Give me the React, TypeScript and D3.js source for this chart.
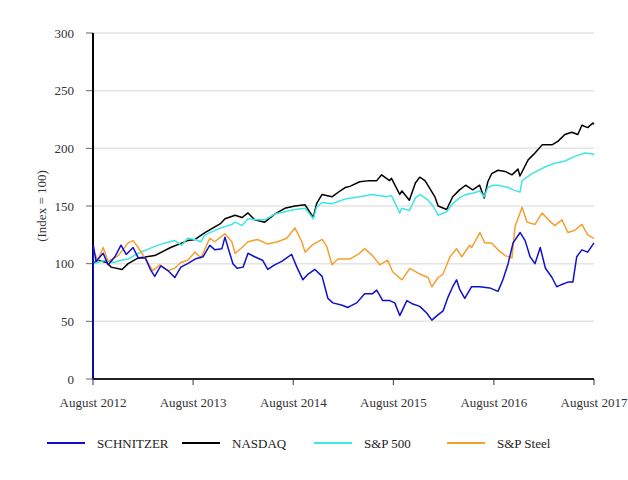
import React from "react";
import * as d3 from "d3";

type Pt = [string, number];

const seriesNames = ["SCHNITZER", "NASDAQ", "S&P 500", "S&P Steel"];
const seriesColors = ["#1010cc", "#000000", "#3ee6e6", "#f5a02e"];
const yTicks = [0, 50, 100, 150, 200, 250, 300];
const xTickDates = ["2012-08-01", "2013-08-01", "2014-08-01", "2015-08-01", "2016-08-01", "2017-08-01"];
const xTickLabels = ["August 2012", "August 2013", "August 2014", "August 2015", "August 2016", "August 2017"];

const schnitzer: Pt[] = [
  ["2012-08-01", 0], ["2012-08-02", 116], ["2012-08-12", 102], ["2012-09-07", 109], ["2012-09-25", 99],
  ["2012-10-20", 106], ["2012-11-11", 116], ["2012-11-30", 108], ["2012-12-25", 114], ["2013-01-13", 105],
  ["2013-02-08", 105], ["2013-02-26", 95], ["2013-03-14", 89], ["2013-04-05", 98], ["2013-05-01", 94],
  ["2013-05-26", 88], ["2013-06-17", 97], ["2013-07-12", 100], ["2013-08-08", 104], ["2013-09-06", 106],
  ["2013-10-01", 116], ["2013-10-19", 112], ["2013-11-14", 113], ["2013-11-25", 123], ["2013-12-06", 114],
  ["2013-12-24", 100], ["2014-01-08", 96], ["2014-01-30", 97], ["2014-02-17", 109], ["2014-03-13", 106],
  ["2014-04-11", 103], ["2014-04-30", 95], ["2014-05-25", 99], ["2014-06-20", 102], ["2014-07-26", 108],
  ["2014-08-14", 97], ["2014-09-05", 86], ["2014-09-24", 91], ["2014-10-19", 95], ["2014-11-14", 89],
  ["2014-12-05", 70], ["2014-12-23", 66], ["2015-01-26", 64], ["2015-02-16", 62], ["2015-02-23", 63],
  ["2015-03-20", 66], ["2015-04-18", 74], ["2015-05-17", 74], ["2015-06-01", 77], ["2015-06-23", 68],
  ["2015-07-18", 68], ["2015-08-06", 66], ["2015-08-24", 55], ["2015-09-19", 68], ["2015-10-11", 65],
  ["2015-11-05", 63], ["2015-12-01", 57], ["2015-12-19", 51], ["2016-01-07", 55], ["2016-01-29", 59],
  ["2016-02-16", 71], ["2016-03-04", 80], ["2016-03-18", 86], ["2016-03-29", 78], ["2016-04-17", 70],
  ["2016-05-12", 80], ["2016-06-11", 80], ["2016-07-17", 79], ["2016-08-16", 76], ["2016-09-03", 86],
  ["2016-09-22", 100], ["2016-10-10", 118], ["2016-11-05", 127], ["2016-11-23", 120], ["2016-12-11", 106],
  ["2016-12-29", 100], ["2017-01-17", 114], ["2017-02-05", 96], ["2017-03-01", 88], ["2017-03-18", 80],
  ["2017-04-06", 82], ["2017-04-28", 84], ["2017-05-16", 84], ["2017-05-30", 106], ["2017-06-18", 112],
  ["2017-07-09", 110], ["2017-08-01", 118],
];

const nasdaq: Pt[] = [
  ["2012-08-01", 100], ["2012-08-19", 103], ["2012-09-20", 101], ["2012-10-06", 97], ["2012-11-15", 95],
  ["2012-12-07", 100], ["2013-01-13", 105], ["2013-03-14", 107], ["2013-05-11", 114], ["2013-07-12", 120],
  ["2013-08-08", 121], ["2013-09-13", 127], ["2013-11-10", 135], ["2013-11-25", 139], ["2014-01-01", 142],
  ["2014-01-26", 140], ["2014-02-17", 144], ["2014-03-13", 138], ["2014-04-19", 136], ["2014-05-25", 143],
  ["2014-07-01", 148], ["2014-08-07", 150], ["2014-09-13", 151], ["2014-10-13", 140], ["2014-10-25", 152],
  ["2014-11-14", 160], ["2014-12-20", 158], ["2015-01-18", 163], ["2015-02-06", 166], ["2015-02-23", 167],
  ["2015-03-31", 171], ["2015-05-06", 172], ["2015-06-01", 172], ["2015-06-19", 177], ["2015-07-18", 172],
  ["2015-07-25", 174], ["2015-08-24", 160], ["2015-09-01", 163], ["2015-09-28", 155], ["2015-10-20", 170],
  ["2015-11-05", 175], ["2015-11-24", 172], ["2015-12-12", 165], ["2015-12-30", 158], ["2016-01-11", 150],
  ["2016-02-11", 147], ["2016-03-04", 158], ["2016-03-29", 164], ["2016-04-20", 168], ["2016-05-16", 164],
  ["2016-06-10", 168], ["2016-06-27", 157], ["2016-07-10", 171], ["2016-07-24", 178], ["2016-08-16", 181],
  ["2016-09-11", 180], ["2016-10-06", 177], ["2016-10-28", 182], ["2016-11-04", 176], ["2016-12-04", 190],
  ["2016-12-29", 196], ["2017-01-24", 203], ["2017-03-01", 203], ["2017-03-22", 206], ["2017-04-17", 212],
  ["2017-05-12", 214], ["2017-06-03", 212], ["2017-06-18", 220], ["2017-07-09", 218], ["2017-07-28", 222],
  ["2017-08-01", 221],
];

const sp500: Pt[] = [
  ["2012-08-01", 100], ["2012-09-15", 103], ["2012-10-15", 101], ["2012-11-11", 103], ["2012-12-07", 104],
  ["2013-01-13", 109], ["2013-03-14", 115], ["2013-04-20", 118], ["2013-05-26", 120], ["2013-06-20", 116],
  ["2013-07-12", 122], ["2013-08-08", 121], ["2013-08-29", 119], ["2013-09-13", 125], ["2013-11-10", 131],
  ["2013-12-20", 134], ["2014-01-01", 136], ["2014-01-26", 133], ["2014-02-17", 139], ["2014-03-13", 138],
  ["2014-04-19", 138], ["2014-05-25", 143], ["2014-07-01", 145], ["2014-08-07", 147], ["2014-09-13", 148],
  ["2014-10-13", 139], ["2014-10-25", 149], ["2014-11-14", 153], ["2014-12-20", 152], ["2015-02-06", 156],
  ["2015-03-31", 158], ["2015-05-17", 160], ["2015-07-07", 158], ["2015-07-25", 159], ["2015-08-24", 144],
  ["2015-09-01", 148], ["2015-09-28", 146], ["2015-10-20", 157], ["2015-11-05", 160], ["2015-12-01", 156],
  ["2015-12-23", 150], ["2016-01-11", 142], ["2016-02-11", 145], ["2016-03-04", 152], ["2016-03-29", 157],
  ["2016-04-20", 160], ["2016-05-16", 161], ["2016-06-10", 163], ["2016-06-27", 158], ["2016-07-10", 166],
  ["2016-07-29", 168], ["2016-08-16", 168], ["2016-09-22", 166], ["2016-10-10", 164], ["2016-11-04", 162],
  ["2016-11-12", 172], ["2016-12-18", 178], ["2017-02-05", 184], ["2017-03-11", 187], ["2017-04-17", 189],
  ["2017-05-23", 193], ["2017-06-29", 196], ["2017-07-28", 195], ["2017-08-01", 194],
];

const spSteel: Pt[] = [
  ["2012-08-01", 112], ["2012-08-19", 103], ["2012-09-07", 114], ["2012-09-25", 102], ["2012-11-01", 107],
  ["2012-12-07", 118], ["2012-12-25", 120], ["2013-01-13", 114], ["2013-02-11", 103], ["2013-03-07", 94],
  ["2013-04-02", 99], ["2013-05-01", 94], ["2013-05-26", 96], ["2013-06-17", 101], ["2013-07-12", 103],
  ["2013-08-08", 110], ["2013-08-29", 105], ["2013-10-01", 122], ["2013-10-19", 119], ["2013-11-25", 126],
  ["2013-12-20", 119], ["2014-01-01", 109], ["2014-01-26", 114], ["2014-02-17", 119], ["2014-03-24", 121],
  ["2014-04-30", 117], ["2014-06-05", 119], ["2014-07-08", 122], ["2014-08-07", 131], ["2014-09-01", 119],
  ["2014-09-13", 110], ["2014-10-08", 116], ["2014-11-14", 121], ["2014-12-01", 115], ["2014-12-20", 99],
  ["2015-01-11", 104], ["2015-02-06", 104], ["2015-02-23", 104], ["2015-03-31", 109], ["2015-04-18", 113],
  ["2015-05-17", 107], ["2015-06-12", 99], ["2015-07-11", 103], ["2015-07-29", 93], ["2015-09-01", 86],
  ["2015-09-30", 96], ["2015-11-05", 91], ["2015-12-05", 88], ["2015-12-19", 80], ["2016-01-11", 88],
  ["2016-01-29", 91], ["2016-02-23", 106], ["2016-03-18", 113], ["2016-04-06", 106], ["2016-05-05", 116],
  ["2016-05-12", 114], ["2016-06-11", 127], ["2016-06-29", 118], ["2016-07-24", 118], ["2016-08-16", 112],
  ["2016-09-11", 107], ["2016-10-06", 105], ["2016-10-17", 132], ["2016-11-12", 149], ["2016-11-30", 136],
  ["2016-12-29", 134], ["2017-01-24", 144], ["2017-02-16", 138], ["2017-03-11", 133], ["2017-04-06", 138],
  ["2017-04-28", 127], ["2017-05-23", 129], ["2017-06-18", 134], ["2017-07-09", 125], ["2017-08-01", 122],
];

const allSeries = [schnitzer, nasdaq, sp500, spSteel];
// drawing order: black, cyan, orange, blue on top
const drawOrder = [1, 2, 3, 0];

const W = 628;
const H = 480;
const M = { left: 85, top: 25, right: 34, bottom: 101 };
const FONT = "'Liberation Serif', 'Times New Roman', serif";

export default function App() {
  const parse = d3.timeParse("%Y-%m-%d");
  const x = d3
    .scaleTime()
    .domain([parse(xTickDates[0])!, parse(xTickDates[xTickDates.length - 1])!])
    .range([93, 594]);
  const y = d3.scaleLinear().domain([0, 300]).range([379, 33]);
  const line = d3
    .line<Pt>()
    .x((d) => x(parse(d[0])!))
    .y((d) => y(d[1]));

  const x0 = x.range()[0];
  const x1 = x.range()[1];

  const legendLineX = [47, 182, 314, 447];

  return (
    <svg width={W} height={H} style={{ position: "absolute", left: 0, top: 0, background: "#fff" }}
      fontFamily={FONT}>
      <rect width={W} height={H} fill="#fff" />
      {/* grid */}
      {yTicks.filter((t) => t > 0).map((t) => (
        <line key={t} x1={x0} x2={x1} y1={y(t)} y2={y(t)} stroke="#e4e4e4" strokeWidth={1.5} />
      ))}
      {/* y ticks and labels */}
      {yTicks.map((t) => (
        <g key={"yt" + t}>
          <line x1={86} x2={x0} y1={y(t)} y2={y(t)} stroke="#666" strokeWidth={1} />
          <text x={74} y={y(t)} dy="0.35em" textAnchor="end" fontSize={13} fill="#333">{t}</text>
        </g>
      ))}
      {/* x ticks and labels */}
      {xTickDates.map((d, i) => {
        const px = x(parse(d)!);
        return (
          <g key={"xt" + d}>
            <line x1={px} x2={px} y1={y(0)} y2={y(0) + 6} stroke="#555" strokeWidth={1.2} />
            <text x={px} y={407} textAnchor="middle" fontSize={13} fill="#333">{xTickLabels[i]}</text>
          </g>
        );
      })}
      {/* y title */}
      <text transform={`translate(41, ${y(150)}) rotate(-90)`} textAnchor="middle" dy="0.35em"
        fontSize={13} fill="#333">(Index = 100)</text>
      {/* series */}
      {drawOrder.map((i) => (
        <path key={seriesNames[i]} d={line(allSeries[i]) || ""} fill="none" stroke={seriesColors[i]}
          strokeWidth={1.5} strokeLinejoin="round" />
      ))}
      {/* axes lines */}
      <line x1={x0} x2={x1} y1={y(0)} y2={y(0)} stroke="#222" strokeWidth={2} />
      <line x1={x0} x2={x0} y1={y(300)} y2={y(0)} stroke="#000" strokeWidth={2} />
      {/* re-draw the schnitzer start spike above axis */}
      <path d={line(schnitzer.slice(0, 2)) || ""} fill="none" stroke={seriesColors[0]} strokeWidth={1.5} />
      {/* legend */}
      {seriesNames.map((n, i) => (
        <g key={"lg" + n}>
          <line x1={legendLineX[i]} x2={legendLineX[i] + 38} y1={443} y2={443} stroke={seriesColors[i]}
            strokeWidth={2} />
          <text x={legendLineX[i] + 50} y={443} dy="0.35em" fontSize={13} fill="#222">{n}</text>
        </g>
      ))}
    </svg>
  );
}
